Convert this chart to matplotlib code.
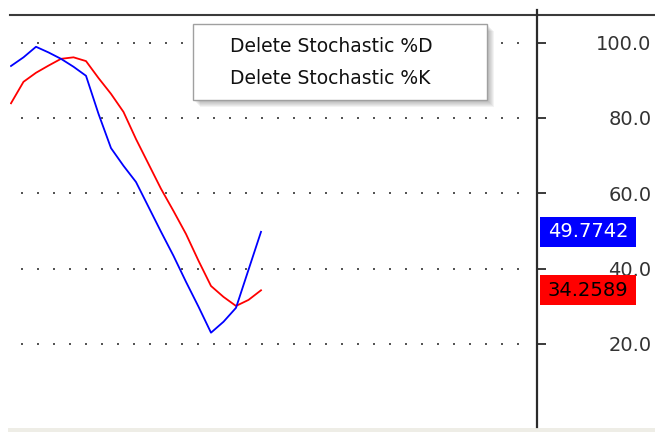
import numpy as np
import matplotlib
matplotlib.use("Agg")
import matplotlib.pyplot as plt
import matplotlib.transforms as mtransforms
from matplotlib.lines import Line2D
from matplotlib.patches import Rectangle

# DATA
bars = np.arange(21)
k_values = [93.8, 96.1, 98.9, 97.4, 95.7, 93.6, 91.2, 81.1, 72.0, 67.3, 63.0,
            56.4, 49.8, 43.4, 36.5, 29.9, 23.0, 25.9, 29.6, 39.7, 49.7742]
d_values = [83.9, 89.6, 92.0, 93.9, 95.7, 96.1, 95.1, 90.6, 86.4, 81.6, 74.4,
            67.8, 61.2, 55.3, 49.2, 42.1, 35.4, 32.5, 30.1, 31.7, 34.2589]
y_ticks = [20, 40, 60, 80, 100]
menu_items = ["Delete Stochastic %D", "Delete Stochastic %K"]

# CONSTANTS
W, H = 655, 432
K_COLOR = "#0000ff"
D_COLOR = "#ff0000"
AXIS_COLOR = "#2b2b2b"
TEXT_COLOR = "#333333"
FONT_FAMILY = "DejaVu Sans"

plt.rcParams["font.family"] = FONT_FAMILY


def fx(px):
    return px / W


def fy(py):
    return 1 - py / H


fig = plt.figure(figsize=(W / 100, H / 100), dpi=100)
fig.patch.set_facecolor("white")

# plot area, right edge sits on the price axis
ax = fig.add_axes([fx(10), fy(428), fx(537) - fx(10), fy(14) - fy(428)])
ax.set_facecolor("white")
ax.set_xlim(-0.08, 42.08)
ax.set_ylim(-2.3, 107.6)
for spine in ax.spines.values():
    spine.set_visible(False)
ax.set_xticks([])

# dotted level lines
ax.hlines(y_ticks, 0.8, 40.9, colors="#555555", linewidth=1.44,
          linestyles=(0, (1, 7)), zorder=1)

ax.plot(bars, d_values, color=D_COLOR, linewidth=1.3, zorder=3)
ax.plot(bars, k_values, color=K_COLOR, linewidth=1.3, zorder=3)

# right axis
ax.yaxis.tick_right()
ax.set_yticks(y_ticks)
ax.set_yticklabels([f"{v:.1f}" for v in y_ticks])
ax.tick_params(axis="y", direction="out", length=6.5, width=1.3, color=AXIS_COLOR,
               pad=76, labelsize=14, labelcolor=TEXT_COLOR)
plt.setp(ax.get_yticklabels(), ha="right")

# last value markers on the axis
trans = mtransforms.blended_transform_factory(ax.transAxes, ax.transData)
px_per_unit = ax.bbox.height / (ax.get_ylim()[1] - ax.get_ylim()[0])
box_h = 30 / px_per_unit
box_x = (540 - 10) / 527
box_w = 96 / 527
for value, face, fg in [(k_values[-1], K_COLOR, "white"), (d_values[-1], D_COLOR, "black")]:
    ax.add_patch(Rectangle((box_x, value - box_h / 2), box_w, box_h, transform=trans,
                           facecolor=face, edgecolor="none", clip_on=False, zorder=5))
    ax.text(box_x + box_w / 2, value, f"{value:.4f}", transform=trans, ha="center",
            va="center", fontsize=14, color=fg, clip_on=False, zorder=6)

# frame lines
fig.add_artist(Line2D([fx(10), fx(655)], [fy(14.5), fy(14.5)], color="#3a3a3a", linewidth=1.5))
fig.add_artist(Line2D([fx(537), fx(537)], [fy(10), fy(427)], color=AXIS_COLOR, linewidth=1.6))

# bottom status strip
fig.add_artist(Rectangle((fx(8), 0), fx(655) - fx(8), fy(428), transform=fig.transFigure,
                         facecolor="#eeede6", edgecolor="none"))

# context menu with soft shadow
mx0, my0, mx1, my1 = 193, 24, 487, 100
for off in range(1, 8):
    fig.add_artist(Rectangle((fx(mx0 + off), fy(my1 + off)), fx(mx1 - mx0), fy(my0) - fy(my1),
                             transform=fig.transFigure, facecolor="#555555",
                             edgecolor="none", alpha=0.07))
fig.add_artist(Rectangle((fx(mx0), fy(my1)), fx(mx1 - mx0), fy(my0) - fy(my1),
                         transform=fig.transFigure, facecolor="white",
                         edgecolor="#a0a0a0", linewidth=1))
for item, ty in zip(menu_items, [47, 79]):
    fig.text(fx(230), fy(ty), item, ha="left", va="center", fontsize=13.5, color="#111111")

fig.savefig("out.png", dpi=100, facecolor=fig.get_facecolor())
